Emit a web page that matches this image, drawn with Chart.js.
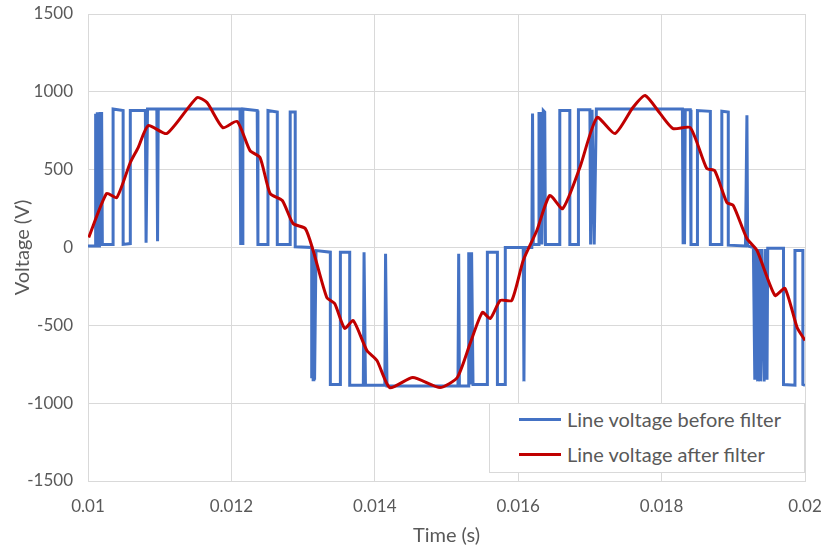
<!DOCTYPE html>
<html>
<head>
<meta charset="utf-8">
<script src="https://cdn.jsdelivr.net/npm/chart.js@4"></script>
<style>
  body { margin: 0; background: #fff; }
  #wrap { position: relative; width: 824px; height: 548px; }
  #legend {
    position: absolute; left: 489px; top: 403px; width: 314px; height: 68px;
    border: 1px solid #d9d9d9; background: #fff;
    font-family: Lato, "Open Sans", sans-serif; font-size: 20px; color: #595959;
  }
  .item { position: absolute; left: 29px; height: 24px; line-height: 24px; }
  .item span.swatch { position: absolute; left: 0; top: 11px; width: 42px; height: 3px; }
  .item span.label { position: absolute; left: 48px; white-space: nowrap; }
</style>
</head>
<body>
<div id="wrap">
  <canvas id="voltageChart" width="824" height="548"></canvas>
  <div id="legend">
    <div class="item" style="top:3px"><span class="swatch" style="background:#4472C4"></span><span class="label">Line voltage before filter</span></div>
    <div class="item" style="top:38px"><span class="swatch" style="background:#C00000"></span><span class="label">Line voltage after filter</span></div>
  </div>
</div>
<script>
// Tensão de linha antes do filtro (PWM): instantes (s) e valores (V)
const beforeTime = [
  0.01000, 0.01010, 0.01010, 0.01011, 0.01011, 0.01013, 0.01013, 0.01014, 0.01014,
  0.01016, 0.01017, 0.01018, 0.01019, 0.01020,
  0.01035, 0.01035, 0.01049, 0.01049, 0.01059, 0.01059, 0.01080, 0.01081, 0.01082, 0.01083,
  0.01096, 0.01097, 0.01098,
  0.01212, 0.01213, 0.01215, 0.01216, 0.01236, 0.01237, 0.01250, 0.01251, 0.01264, 0.01264,
  0.01282, 0.01282, 0.01289, 0.01289, 0.01312,
  0.01312, 0.01313, 0.01314, 0.01315, 0.01316, 0.01318,
  0.01338, 0.01338, 0.01352, 0.01352, 0.01365, 0.01365, 0.01384, 0.01385, 0.01387,
  0.01414, 0.01415, 0.01417,
  0.01516, 0.01517, 0.01518, 0.01530, 0.01531, 0.01533, 0.01535, 0.01537, 0.01557, 0.01557,
  0.01571, 0.01571, 0.01582, 0.01582, 0.01607, 0.01608, 0.01609,
  0.01619, 0.01620, 0.01621, 0.01628, 0.01629, 0.01630, 0.01632, 0.01633, 0.01635, 0.01637, 0.01638,
  0.01658, 0.01658, 0.01672, 0.01672, 0.01684, 0.01684, 0.01700, 0.01701, 0.01703, 0.01706, 0.01709,
  0.01829, 0.01830, 0.01832, 0.01833, 0.01840, 0.01841, 0.01850, 0.01850, 0.01868, 0.01868,
  0.01884, 0.01884, 0.01893, 0.01893, 0.01917, 0.01919, 0.01920, 0.01928,
  0.01930, 0.01932, 0.01934, 0.01936, 0.01938, 0.01940, 0.01943, 0.01945, 0.01947, 0.01948,
  0.01970, 0.01970, 0.01986, 0.01986, 0.01997, 0.01997, 0.02000
];
const beforeVolt = [
  10, 10, 860, 860, 10, 10, 860, 860, 10,
  10, 870, 20, 870, 20,
  20, 890, 880, 20, 25, 880, 880, 30, 30, 890,
  890, 40, 890,
  890, 25, 25, 890, 880, 20, 20, 880, 870, 20,
  20, 870, 870, 5, 0,
  -840, -20, -850, -20, -850, -20,
  -30, -880, -880, -30, -30, -885, -885, -30, -885,
  -885, -40, -890,
  -890, -40, -890, -890, -30, -880, -30, -880, -880, -30,
  -30, -880, -880, 0, 0, -860, 0,
  0, 860, 20, 20, 870, 20, 870, 20, 880, 870, 20,
  20, 880, 880, 20, 20, 885, 885, 20, 885, 20, 890,
  890, 30, 30, 885, 885, 20, 20, 880, 875, 20,
  20, 875, 870, 15, 10, 850, 10, 0,
  -850, -10, -860, -10, -860, -10, -860, -10, -850, -5,
  -5, -880, -885, -20, -20, -880, -885
];

// Tensão de linha depois do filtro
const afterTime = [
  0.01001, 0.01026, 0.01040, 0.01059, 0.01070, 0.01084, 0.01110, 0.01152, 0.01166, 0.01188,
  0.01208, 0.01226, 0.01240, 0.01254, 0.01271, 0.01286, 0.01303, 0.01314, 0.01333, 0.01344,
  0.01358, 0.01370, 0.01389, 0.01403, 0.01421, 0.01453, 0.01491, 0.01515, 0.01533, 0.01550,
  0.01561, 0.01575, 0.01591, 0.01607, 0.01626, 0.01644, 0.01662, 0.01686, 0.01710, 0.01735,
  0.01760, 0.01777, 0.01798, 0.01816, 0.01840, 0.01863, 0.01874, 0.01891, 0.01900, 0.01919,
  0.01933, 0.01958, 0.01972, 0.01989, 0.02000
];
const afterVolt = [
  64, 347, 320, 546, 642, 783, 732, 963, 931, 770,
  810, 622, 578, 347, 302, 154, 122, -19, -321, -360,
  -520, -469, -662, -726, -900, -835, -900, -835, -616, -417,
  -456, -340, -340, -83, 109, 334, 250, 514, 835, 732,
  899, 976, 860, 764, 770, 507, 494, 289, 270, 58,
  -19, -308, -263, -514, -597
];

// Eixos
const xTicks = [0.01, 0.012, 0.014, 0.016, 0.018, 0.02];
const yTicks = [-1500, -1000, -500, 0, 500, 1000, 1500];

function toPoints(xs, ys) {
  return xs.map((x, i) => ({ x: x, y: ys[i] }));
}

const tickFont = { family: 'Lato, "Open Sans", sans-serif', size: 17 };
const titleFont = { family: 'Lato, "Open Sans", sans-serif', size: 20 };
const gray = '#595959';
const gridColor = '#d9d9d9';

const ctx = document.getElementById('voltageChart').getContext('2d');
new Chart(ctx, {
  type: 'line',
  data: {
    datasets: [
      {
        label: 'Line voltage after filter',
        data: toPoints(afterTime, afterVolt),
        borderColor: '#C00000',
        borderWidth: 3,
        pointRadius: 0,
        tension: 0.2,
        fill: false,
        order: 1
      },
      {
        label: 'Line voltage before filter',
        data: toPoints(beforeTime, beforeVolt),
        borderColor: '#4472C4',
        borderWidth: 3,
        pointRadius: 0,
        tension: 0,
        fill: false,
        order: 2
      }
    ]
  },
  options: {
    responsive: false,
    animation: false,
    layout: { padding: { top: 14, right: 19, left: 0, bottom: 0 }, autoPadding: false },
    plugins: {
      legend: { display: false },
      tooltip: { enabled: false }
    },
    scales: {
      x: {
        type: 'linear',
        min: xTicks[0],
        max: xTicks[xTicks.length - 1],
        afterBuildTicks: scale => { scale.ticks = xTicks.map(v => ({ value: v })); },
        afterFit: scale => {
          scale.height = 67;
          scale.paddingLeft = 0;
          scale.paddingRight = 0;
        },
        grid: { color: gridColor, drawTicks: false },
        border: { color: gridColor },
        ticks: {
          color: gray,
          font: tickFont,
          padding: 15,
          maxRotation: 0,
          callback: v => String(parseFloat(Number(v).toFixed(3)))
        },
        title: { display: true, text: 'Time (s)', color: gray, font: titleFont, padding: { top: 0, bottom: 0 } }
      },
      y: {
        min: yTicks[0],
        max: yTicks[yTicks.length - 1],
        afterBuildTicks: scale => { scale.ticks = yTicks.map(v => ({ value: v })); },
        afterFit: scale => {
          scale.width = 88;
          scale.paddingTop = 0;
          scale.paddingBottom = 0;
        },
        grid: { color: gridColor, drawTicks: false },
        border: { color: gridColor },
        ticks: { color: gray, font: tickFont, padding: 15, callback: v => String(v) },
        title: { display: true, text: 'Voltage (V)', color: gray, font: titleFont, padding: { top: 11, bottom: 0 } }
      }
    }
  }
});
</script>
</body>
</html>
